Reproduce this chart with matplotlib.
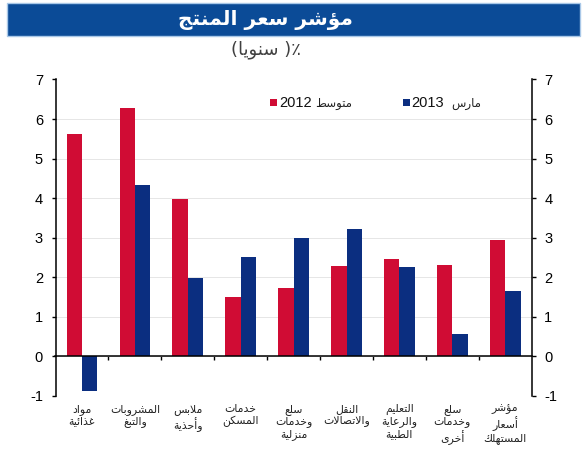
import matplotlib
matplotlib.use('Agg')
import matplotlib.pyplot as plt
from matplotlib.patches import Rectangle
import matplotlib.transforms as mtransforms
import numpy as np

# ---------------- data ----------------
categories = ["مواد\nغذائية", "المشروبات\nوالتبغ", "ملابس\nوأحذية", "خدمات\nالمسكن",
              "سلع\nوخدمات\nمنزلية", "النقل\nوالاتصالات", "التعليم\nوالرعاية\nالطبية",
              "سلع\nوخدمات\nأخرى", "مؤشر\nأسعار\nالمستهلك"]
avg_2012 = [5.62, 6.27, 3.97, 1.49, 1.73, 2.29, 2.47, 2.31, 2.94]
mar_2013 = [-0.88, 4.33, 1.97, 2.51, 2.98, 3.23, 2.25, 0.56, 1.64]
yticks = [-1, 0, 1, 2, 3, 4, 5, 6, 7]
title = "مؤشر سعر المنتج"
subtitle_word = "سنويا"
legend_words = ["متوسط", "مارس"]
legend_years = ["2012", "2013"]

RED = "#d00c34"
BLUE = "#0b2e80"
BANNER = "#0b4b97"

# ---------------- simple Arabic shaping (presentation forms) ----------------
_FORMS = {
    'ا': (0xFE8D, False), 'أ': (0xFE83, False), 'ؤ': (0xFE85, False), 'ئ': (0xFE89, True),
    'ب': (0xFE8F, True), 'ة': (0xFE93, False), 'ت': (0xFE95, True), 'ج': (0xFE9D, True),
    'ح': (0xFEA1, True), 'خ': (0xFEA5, True), 'د': (0xFEA9, False), 'ذ': (0xFEAB, False),
    'ر': (0xFEAD, False), 'ز': (0xFEAF, False), 'س': (0xFEB1, True), 'ش': (0xFEB5, True),
    'ص': (0xFEB9, True), 'ط': (0xFEC1, True), 'ع': (0xFEC9, True), 'غ': (0xFECD, True),
    'ف': (0xFED1, True), 'ق': (0xFED5, True),
    'ك': (0xFED9, True), 'ل': (0xFEDD, True), 'م': (0xFEE1, True), 'ن': (0xFEE5, True),
    'ه': (0xFEE9, True), 'و': (0xFEED, False), 'ى': (0xFEEF, False), 'ي': (0xFEF1, True),
}
_LAM_ALEF = {'ا': 0xFEFB, 'أ': 0xFEF7}


def _shape_line(s):
    out = []
    i, n = 0, len(s)
    prev_joins = False
    while i < n:
        c = s[i]
        if c not in _FORMS:
            out.append(c)
            prev_joins = False
            i += 1
            continue
        if c == 'ل' and i + 1 < n and s[i + 1] in _LAM_ALEF:
            out.append(chr(_LAM_ALEF[s[i + 1]] + (1 if prev_joins else 0)))
            prev_joins = False
            i += 2
            continue
        iso, dual = _FORMS[c]
        nxt = s[i + 1] if i + 1 < n else None
        next_joins = dual and (nxt in _FORMS)
        if prev_joins and next_joins:
            f = iso + 3
        elif prev_joins:
            f = iso + 1
        elif next_joins:
            f = iso + 2
        else:
            f = iso
        out.append(chr(f))
        prev_joins = dual
        i += 1
    return ''.join(out)[::-1]


def ar(s):
    return '\n'.join(_shape_line(line) for line in s.split('\n'))


FONT = ['Liberation Sans', 'DejaVu Sans']
plt.rcParams['font.family'] = FONT

# ---------------- figure ----------------
fig = plt.figure(figsize=(5.85, 4.5), dpi=100)
W, H = 585, 450

# banner
fig.patches.append(Rectangle((7 / W, 1 - 36 / H), 573 / W, 33 / H, transform=fig.transFigure,
                             facecolor=BANNER, edgecolor="#a9c8e8", lw=1.0))
fig.text(265 / W, 1 - 20 / H, ar(title), color='white', fontsize=14.5, fontweight='bold',
         ha='center', va='center', family=['DejaVu Sans'])
subtitle = "(" + ar(subtitle_word) + " )" + "\u066a"
fig.text(266 / W, 1 - 50 / H, subtitle, color='#404040', fontsize=13,
         ha='center', va='center', family=['DejaVu Sans'])

ax = fig.add_axes([55.5 / W, 1 - 395.7 / H, (531.7 - 55.5) / W, (395.7 - 79.5) / H])

x = np.arange(len(categories))
w = 0.29
ax.bar(x - w / 2, avg_2012, width=w, color=RED, zorder=3)
ax.bar(x + w / 2, mar_2013, width=w, color=BLUE, zorder=3)

ax.set_xlim(-0.5, len(categories) - 0.5)
ax.set_ylim(-1, 7)
ax.set_yticks(yticks)
ax.set_yticklabels([str(v) for v in yticks], fontsize=10.5)
ax.grid(axis='y', color='#e6e6e6', lw=0.7, zorder=0)
ax.set_axisbelow(True)

ax.spines['top'].set_visible(False)
for s in ['left', 'right', 'bottom']:
    ax.spines[s].set_color('black')
    ax.spines[s].set_linewidth(1.1)
ax.spines['bottom'].set_position(('data', 0))
ax.spines['bottom'].set_zorder(4)

ax.set_xticks(np.arange(len(categories) - 1) + 0.5)
ax.set_xticklabels([])
ax.tick_params(axis='x', direction='out', length=3, width=1, color='black')
ax.tick_params(axis='y', direction='out', length=3, width=1, color='black',
               left=True, right=True, labelleft=True, labelright=True, pad=6)

trans = mtransforms.blended_transform_factory(ax.transData, ax.transAxes)
for i, lab in enumerate(categories):
    ax.text(x[i], -0.025, ar(lab), transform=trans, ha='center', va='top', fontsize=7.8,
            color='#222222', linespacing=1.2, family=['DejaVu Sans'])

# legend (manual)
sq = 7
for (sx, col, yr, yx, word, wx) in [(270, RED, legend_years[0], 279, legend_words[0], 334),
                                    (403, BLUE, legend_years[1], 411, legend_words[1], 466)]:
    fig.patches.append(Rectangle((sx / W, 1 - 106 / H), sq / W, sq / H, transform=fig.transFigure,
                                 facecolor=col, edgecolor='none'))
    fig.text(yx / W, 1 - 103 / H, yr, fontsize=10.5, ha='left', va='center', color='#111111')
    fig.text(wx / W, 1 - 103 / H, ar(word), fontsize=8.5, ha='center', va='center', color='#222222',
             family=['DejaVu Sans'])

fig.savefig('out.png', dpi=100)
